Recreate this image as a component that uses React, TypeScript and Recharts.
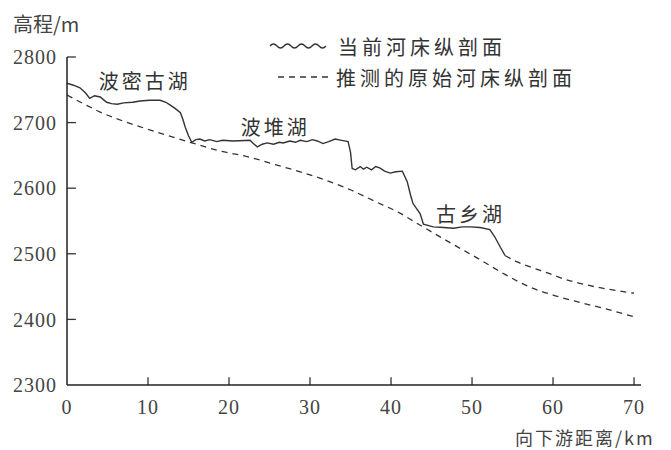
import { ComposedChart, Line, XAxis, YAxis, ReferenceDot, ReferenceLine } from "recharts";

const xTicks = [0, 10, 20, 30, 40, 50, 60, 70];
const yTicks = [2300, 2400, 2500, 2600, 2700, 2800];

// current river bed profile (solid part)
const currentKm = [
  0, 0.8, 1.6, 2.3, 2.8, 3.4, 4.1, 4.5, 4.9, 5.5, 6.2, 7.0, 8.1, 9.0, 10.2, 11.5, 12.2, 12.7, 13.3, 14.0,
  14.3, 14.6, 15.0, 15.4, 15.9, 16.4, 17.0, 17.6, 18.5, 19.2, 20.5, 22.6, 23.0, 23.5, 24.1, 24.7, 25.5,
  26.2, 26.7, 27.5, 28.2, 28.8, 29.6, 30.3, 30.9, 31.6, 32.3, 33.1, 33.9, 34.7, 35.0, 35.2, 35.6, 36.2,
  36.6, 37.0, 37.6, 38.1, 38.6, 39.2, 39.9, 40.6, 41.4, 42.0, 42.4, 42.7, 43.2, 43.6, 44.0, 45.2, 46.5,
  47.7, 48.8, 49.8, 51.0, 52.2, 52.8, 53.5, 54.1,
];
const currentElev = [
  2760, 2757, 2753, 2745, 2737, 2741, 2739, 2735, 2731, 2729, 2728, 2730, 2731, 2733, 2734, 2734, 2731, 2727, 2722, 2715,
  2705, 2693, 2680, 2670, 2674, 2675, 2672, 2674, 2671, 2673, 2672, 2673, 2668, 2663, 2667, 2669, 2667,
  2670, 2669, 2672, 2670, 2673, 2671, 2674, 2672, 2668, 2671, 2675, 2673, 2671, 2655, 2630, 2628, 2633,
  2629, 2632, 2628, 2633, 2631, 2626, 2623, 2625, 2626, 2610, 2590, 2577, 2568, 2561, 2545, 2541, 2540,
  2539, 2541, 2541, 2540, 2537, 2526, 2510, 2497,
];

// current profile downstream of 古乡湖 (dashed)
const tailKm = [54.1, 55.5, 57.2, 59.5, 61.5, 63.3, 65.5, 67.8, 70];
const tailElev = [2497, 2488, 2480, 2470, 2461, 2455, 2449, 2444, 2440];

// inferred original profile
const originalKm = [0, 2, 4.1, 7, 10.2, 15.2, 18.5, 22.6, 25.7, 28.8, 32, 34.9, 38, 41.1, 43, 45.2, 48, 51, 54, 57.2, 60.3, 63.3, 66.5, 70];
const originalElev = [2742, 2729, 2716, 2702, 2689, 2670, 2658, 2647, 2636, 2625, 2612, 2598, 2580, 2562, 2548, 2532, 2512, 2491, 2469, 2449, 2436, 2426, 2416, 2404];

const lakeNames = ["波密古湖", "波堆湖", "古乡湖"];
const lakeKm = [9.6, 25.7, 49.8];
const lakeElev = [2762, 2692, 2559];

const legendLabels = ["当前河床纵剖面", "推测的原始河床纵剖面"];

const toRows = (km: number[], elev: number[]) => km.map((k, i) => ({ km: k, elev: elev[i] }));

const ink = "#333";
const serif = "'Liberation Serif', 'DejaVu Serif', serif";
const cjk = "'Noto Sans CJK SC', sans-serif";

export default function App() {
  const tick = { fill: "#444", fontSize: 20, fontFamily: serif, letterSpacing: 1 };
  return (
    <div style={{ position: "absolute", left: 0, top: 0, width: 671, height: 450, background: "#fff" }}>
      <ComposedChart width={671} height={450} margin={{ top: 57, right: 30, bottom: 35, left: 7 }}>
        <XAxis
          type="number"
          dataKey="km"
          domain={[0, 70.86]}
          ticks={xTicks}
          allowDataOverflow
          height={30}
          stroke="#222"
          strokeWidth={1.5}
          tickLine={false}
          tickMargin={9}
          tick={tick}
        />
        <YAxis
          type="number"
          dataKey="elev"
          domain={[2300, 2800]}
          ticks={yTicks}
          width={60}
          stroke="#222"
          strokeWidth={1.5}
          tickLine={false}
          tickMargin={4}
          tick={tick}
        />
        {/* inward tick marks */}
        {xTicks.slice(1).map((t) => (
          <ReferenceLine key={"xt" + t} segment={[{ x: t, y: 2300 }, { x: t, y: 2312 }]} stroke="#333" strokeWidth={1.3} ifOverflow="visible" />
        ))}
        {yTicks.slice(1).map((t) => (
          <ReferenceLine key={"yt" + t} segment={[{ x: 0, y: t }, { x: 1.1, y: t }]} stroke="#333" strokeWidth={1.3} ifOverflow="visible" />
        ))}
        <Line data={toRows(originalKm, originalElev)} dataKey="elev" type="monotone" stroke={ink} strokeWidth={1.3} strokeDasharray="6 5" dot={false} isAnimationActive={false} />
        <Line data={toRows(tailKm, tailElev)} dataKey="elev" type="monotone" stroke={ink} strokeWidth={1.3} strokeDasharray="6 5" dot={false} isAnimationActive={false} />
        <Line data={toRows(currentKm, currentElev)} dataKey="elev" type="linear" stroke={ink} strokeWidth={1.4} dot={false} isAnimationActive={false} />
        {lakeNames.map((name, i) => (
          <ReferenceDot
            key={name}
            x={lakeKm[i]}
            y={lakeElev[i]}
            r={0}
            ifOverflow="visible"
            label={{ value: name, position: "center", fill: ink, fontSize: 20, fontFamily: cjk, letterSpacing: 3 }}
          />
        ))}
      </ComposedChart>

      <svg width={671} height={450} style={{ position: "absolute", left: 0, top: 0, pointerEvents: "none" }}>
        <path d="M270 46 q3.5 -4 7 0 t7 0 t7 0 t7 0 t7 0 t7 0 t7 0 t7 0" fill="none" stroke={ink} strokeWidth={1.3} />
        <line x1={278} y1={77} x2={330} y2={77} stroke={ink} strokeWidth={1.3} strokeDasharray="6 5" />
        <text x={338} y={46} dominantBaseline="central" fontSize={20} fontFamily={cjk} fill={ink} letterSpacing={4}>{legendLabels[0]}</text>
        <text x={336} y={77} dominantBaseline="central" fontSize={20} fontFamily={cjk} fill={ink} letterSpacing={4}>{legendLabels[1]}</text>
        <text x={13} y={23} dominantBaseline="central" fontSize={20} fontFamily={cjk} fill="#444">高程/m</text>
        <text x={515} y={437} dominantBaseline="central" fontSize={18} fontFamily={cjk} fill="#444" letterSpacing={2}>向下游距离/km</text>
      </svg>
    </div>
  );
}
